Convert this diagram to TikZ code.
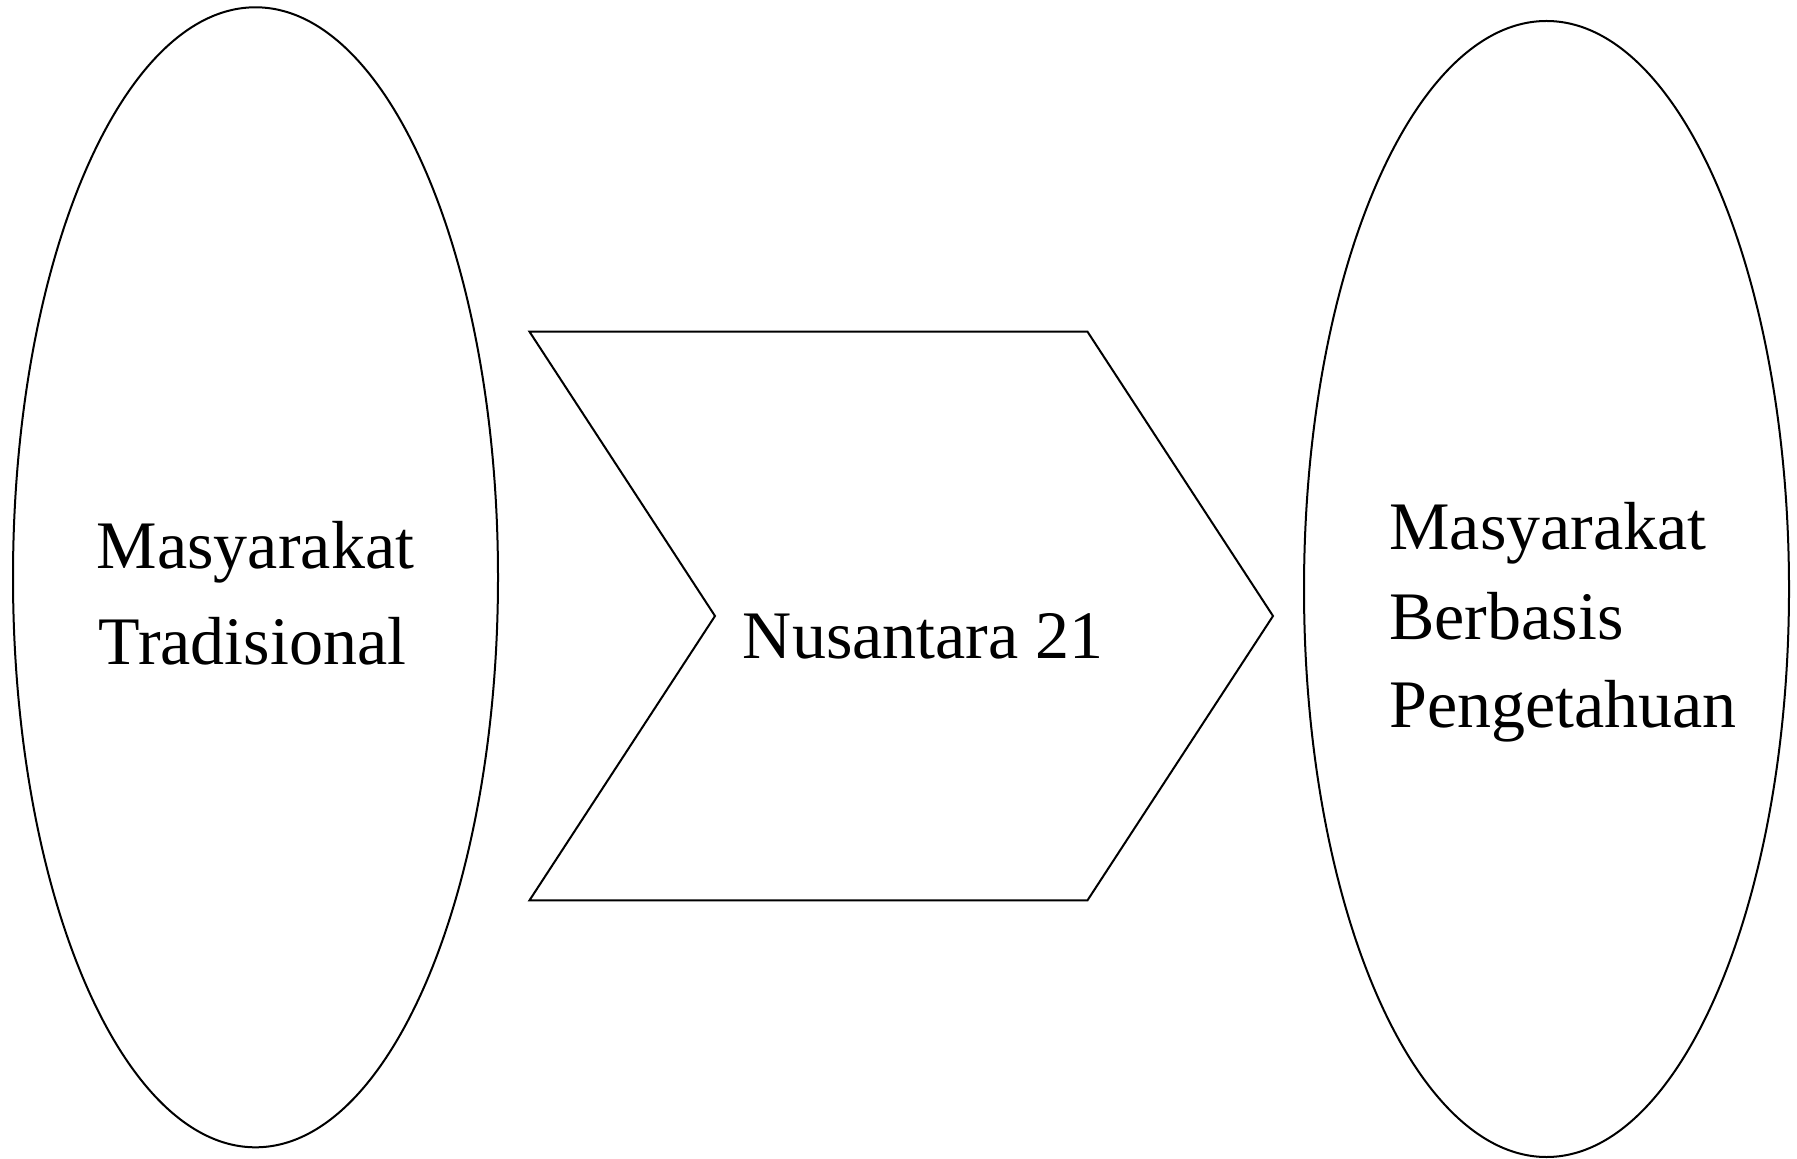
\documentclass[tikz,border=0pt]{standalone}
\usepackage{fontspec}
\setmainfont{Liberation Serif}
\usetikzlibrary{shapes.geometric}
\begin{document}
\begin{tikzpicture}[x=0.5pt,y=-0.5pt,
  oval/.style={ellipse, draw, line width=1pt, inner sep=0pt, minimum width=242.5pt},
  label/.style={anchor=base west, inner sep=0pt, font=\fontsize{34pt}{40pt}\selectfont}]
\useasboundingbox (0,0) rectangle (1797,1159);
\node[oval, minimum height=570pt] (left) at (255.5,577.3) {};
\node[oval, minimum height=568pt] (right) at (1546.5,589) {};
\coordinate (tl) at (529.5,331.7);
\coordinate (tr) at (1087.5,331.7);
\coordinate (tip) at (1273,616);
\coordinate (br) at (1087.5,900.3);
\coordinate (bl) at (529.5,900.3);
\coordinate (notch) at (715,616);
\draw[line width=1pt, line join=miter] (tl) -- (tr) -- (tip) -- (br) -- (bl) -- (notch) -- cycle;
\node[label] (l1) at (96.5,568.3) {Masyarakat};
\node[label] (l2) at (98.5,664) {Tradisional};
\node[label] (mid) at (742.5,658) {Nusantara 21};
\node[label] (r1) at (1389,549.7) {Masyarakat};
\node[label] (r2) at (1389,639.4) {Berbasis};
\node[label] (r3) at (1389,727.3) {Pengetahuan};
\end{tikzpicture}
\end{document}
